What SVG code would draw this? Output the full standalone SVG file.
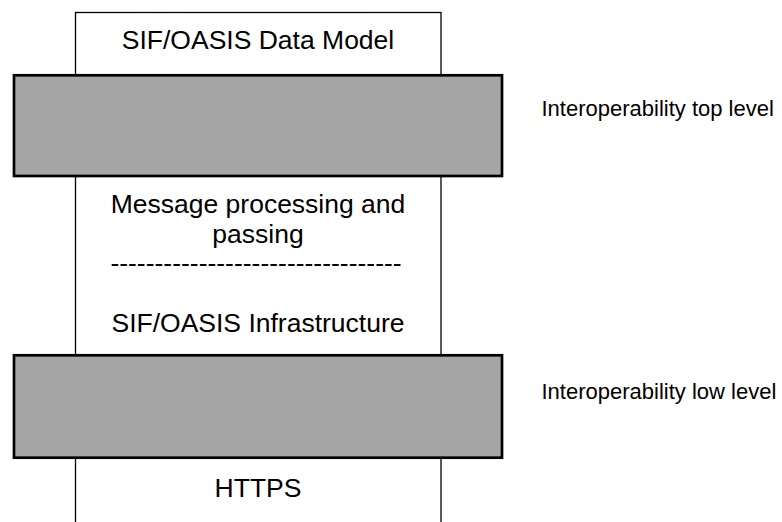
<svg xmlns="http://www.w3.org/2000/svg" width="782" height="522" viewBox="0 0 782 522">
<style>
.col{fill:#fff;stroke:#000;stroke-width:1.3}
.band{fill:#a6a6a6;stroke:#000;stroke-width:2.7}
.t{font-family:"Liberation Sans",Arial,sans-serif;font-size:26.5px;fill:#000;text-anchor:middle}
.lbl{font-family:"Liberation Sans",Arial,sans-serif;font-size:22px;fill:#000}
</style>
<rect width="782" height="522" fill="#fff"/>
<g id="stack">
<rect class="col" x="75.5" y="12.5" width="365.5" height="520"/>
</g>
<g id="data-model"><text class="t" x="258" y="49">SIF/OASIS Data Model</text></g>
<g id="top-level"><rect class="band" x="14" y="75.3" width="488" height="100.7"/></g>
<g id="messaging">
<text class="t" x="258" y="213">Message processing and</text>
<text class="t" x="258" y="243">passing</text>
<text class="t" x="256" y="272">---------------------------------</text>
<text class="t" x="258" y="332">SIF/OASIS Infrastructure</text>
</g>
<g id="low-level"><rect class="band" x="14" y="355.3" width="488" height="102.4"/></g>
<g id="https"><text class="t" x="258" y="496.5">HTTPS</text></g>
<g id="labels">
<text class="lbl" x="541.5" y="116">Interoperability top level</text>
<text class="lbl" x="541.5" y="399">Interoperability low level</text>
</g>
<g id="connectors"/>
</svg>
